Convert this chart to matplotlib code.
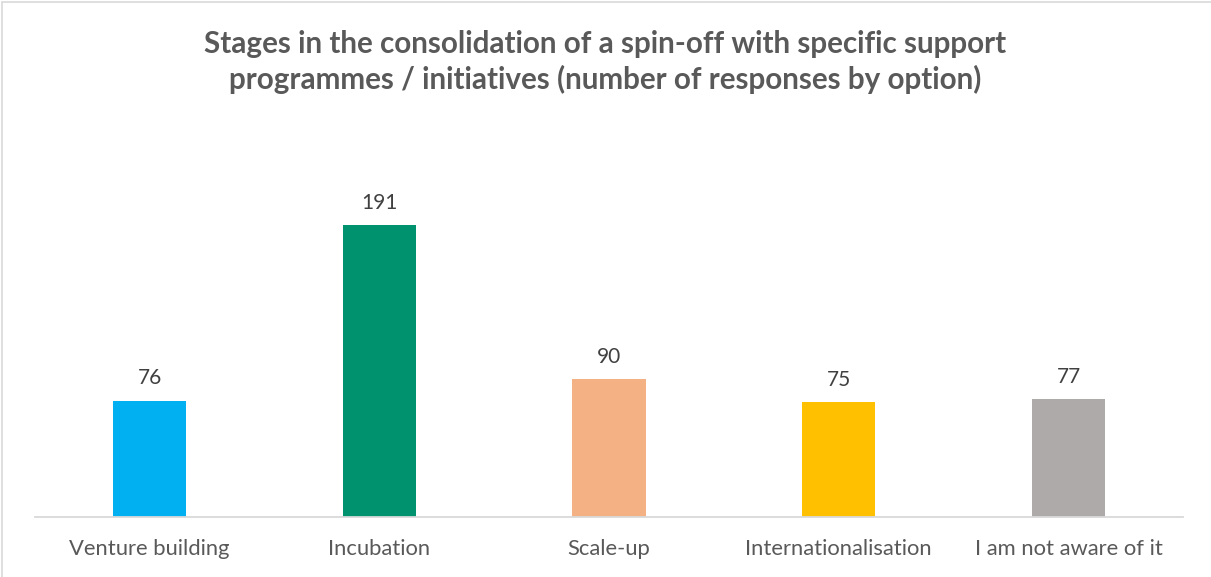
import matplotlib
matplotlib.use("Agg")
import matplotlib.pyplot as plt
from matplotlib.patches import Rectangle

categories = ["Venture building", "Incubation", "Scale-up", "Internationalisation", "I am not aware of it"]
responses = [76, 191, 90, 75, 77]
bar_colors = ["#00B0F0", "#00926E", "#F4B183", "#FFC000", "#AEAAAA"]
title = "Stages in the consolidation of a spin-off with specific support\nprogrammes / initiatives (number of responses by option)"

plt.rcParams["font.family"] = ["Lato", "DejaVu Sans"]

fig = plt.figure(figsize=(12.11, 5.77), dpi=100)
fig.patch.set_facecolor("white")

# chart-area frame
fig.patches.append(Rectangle((0.0017, -0.01), 1.2, 1.0065, transform=fig.transFigure,
                             fill=False, edgecolor="#D9D9D9", linewidth=1.2))

ax = fig.add_axes([0.0286, 0.1045, 0.9486, 0.6617])
x = list(range(len(categories)))
bars = ax.bar(x, responses, width=0.318, color=bar_colors, zorder=2)
ax.set_xlim(-0.5, len(categories) - 0.5)
ax.set_ylim(0, 250)

for rect, v in zip(bars, responses):
    ax.annotate(str(v), (rect.get_x() + rect.get_width() / 2, v),
                xytext=(0, 9), textcoords="offset points", ha="center", va="bottom",
                fontsize=15, color="#404040")

ax.set_xticks(x)
ax.set_xticklabels(categories, fontsize=15.8, color="#595959")
ax.tick_params(axis="x", length=0, pad=16)
ax.set_yticks([])
for side in ("top", "right", "left"):
    ax.spines[side].set_visible(False)
ax.spines["bottom"].set_color("#D9D9D9")
ax.spines["bottom"].set_linewidth(1.3)

fig.text(0.5, 0.892, title, ha="center", va="center", fontsize=21.3,
         fontweight="bold", color="#595959", linespacing=1.3)

fig.savefig("out.png", dpi=100, facecolor="white")
